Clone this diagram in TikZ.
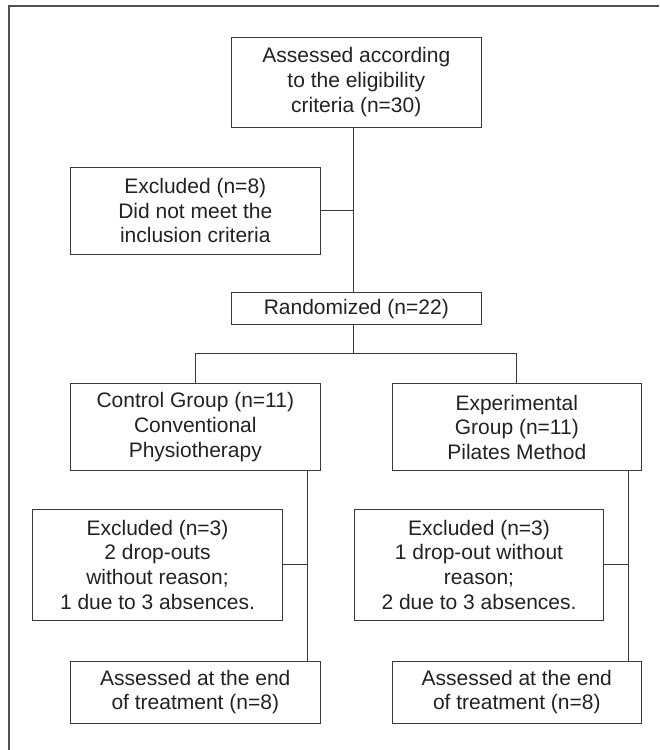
\documentclass[tikz,border=0pt]{standalone}
\usepackage{fontspec}
\setmainfont{Liberation Sans}
\definecolor{linegray}{HTML}{3A3A3A}
\definecolor{framegray}{HTML}{505050}
\definecolor{inkblack}{HTML}{222222}
\begin{document}
\begin{tikzpicture}[x=1pt,y=-1pt,
    stagebox/.style={draw=linegray,line width=1pt,align=center,inner sep=0pt,
      minimum width=249.6pt,text=inkblack,font=\fontsize{21}{24.8}\selectfont},
    link/.style={linegray,line width=1pt}]
  \useasboundingbox (0,0) rectangle (659,750);
  \draw[framegray,line width=1.4pt] (9,750) -- (9,6) -- (659,6);

  \node[stagebox,minimum height=90pt] (assess) at (356.3,82.3) {Assessed according\\to the eligibility\\criteria (n=30)};
  \node[stagebox,minimum height=87pt] (excl) at (195.3,210.5) {Excluded (n=8)\\Did not meet the\\inclusion criteria};
  \node[stagebox,minimum height=32.3pt] (rand) at (356.3,308.8) {Randomized (n=22)};
  \node[stagebox,minimum height=86.7pt] (ctrl) at (195.3,427.3) {Control Group (n=11)\\Conventional\\Physiotherapy};
  \node[stagebox,minimum height=86.7pt] (expe) at (516.8,427.3) {Experimental\\Group (n=11)\\Pilates Method};
  \node[stagebox,minimum height=110.7pt] (exclA) at (157.5,564.7) {Excluded (n=3)\\2 drop-outs\\without reason;\\1 due to 3 absences.};
  \node[stagebox,minimum height=110.7pt] (exclB) at (479,564.7) {Excluded (n=3)\\1 drop-out without\\reason;\\2 due to 3 absences.};
  \node[stagebox,minimum height=62pt] (endA) at (195.3,692) {Assessed at the end\\of treatment (n=8)};
  \node[stagebox,minimum height=62pt] (endB) at (516.8,692) {Assessed at the end\\of treatment (n=8)};

  % trunk lines
  \coordinate (trunk) at ([xshift=-3pt]assess.south);
  \coordinate (split) at ([xshift=-3pt,yshift=-27.7pt]rand.south);
  \draw[link] (trunk) -- (trunk |- rand.north);
  \draw[link] (excl.east) -- (excl.east -| trunk);
  \draw[link] ([xshift=-3pt]rand.south) -- (split);
  \draw[link] (ctrl.north) |- (split) -| (expe.north);

  % branch lines
  \coordinate (branchA) at ([xshift=-13.5pt]ctrl.south east);
  \coordinate (branchB) at ([xshift=-13.5pt]expe.south east);
  \draw[link] (branchA) -- (branchA |- endA.north);
  \draw[link] (exclA.east) -- (exclA.east -| branchA);
  \draw[link] (branchB) -- (branchB |- endB.north);
  \draw[link] (exclB.east) -- (exclB.east -| branchB);
\end{tikzpicture}
\end{document}
